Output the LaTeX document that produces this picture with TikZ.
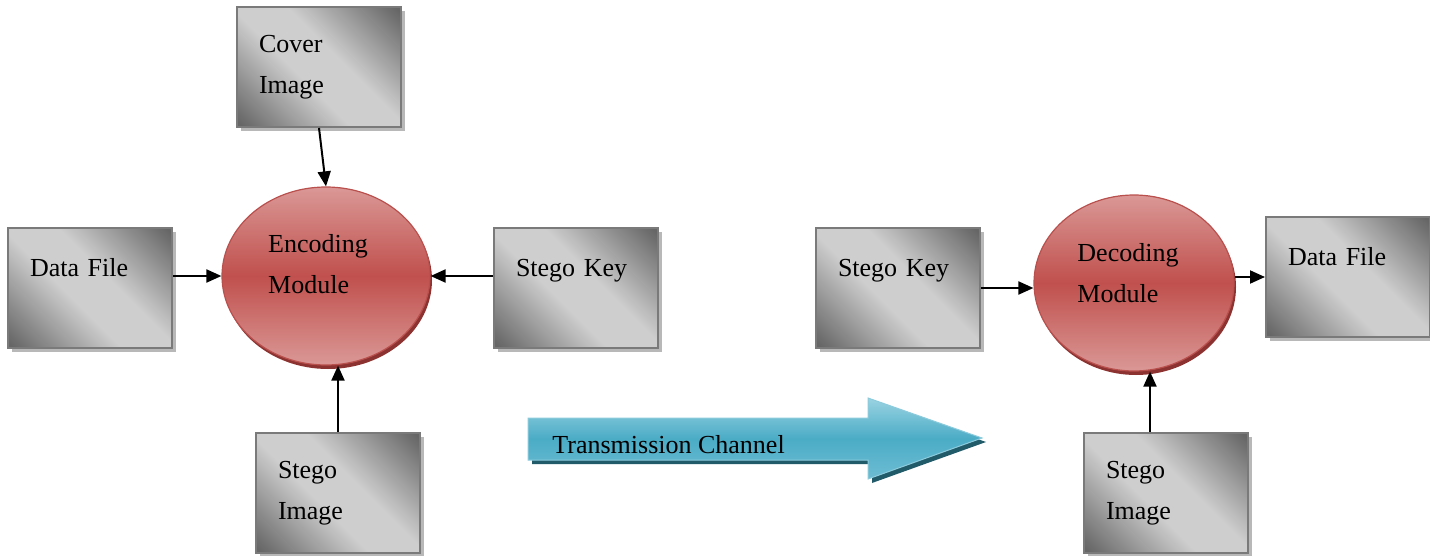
\documentclass[tikz,border=0pt]{standalone}
\usepackage{fontspec}
\setmainfont{Liberation Serif}
\usetikzlibrary{arrows.meta}
\usetikzlibrary{shapes.geometric}
\usetikzlibrary{shadows}
\usetikzlibrary{calc}
\definecolor{boxdark}{HTML}{666666}
\definecolor{boxlight}{HTML}{CECECE}
\definecolor{boxedge}{HTML}{7A7A7A}
\definecolor{boxshadow}{HTML}{B8B8B8}
\definecolor{modlight}{HTML}{DA9896}
\definecolor{moddark}{HTML}{C0504D}
\definecolor{modedge}{HTML}{B9504D}
\definecolor{modshadow}{HTML}{8C3230}
\definecolor{chanlight}{HTML}{9AD3E2}
\definecolor{chanmid}{HTML}{4BACC6}
\definecolor{chanlow}{HTML}{6DBDD3}
\definecolor{chanedge}{HTML}{8CCBDC}
\definecolor{chanshadow}{HTML}{215A69}
\pgfdeclarehorizontalshading{boxshade}{100bp}{color(0bp)=(boxdark);
    color(16bp)=(boxdark); color(43bp)=(boxlight); color(57bp)=(boxlight);
    color(84bp)=(boxdark); color(100bp)=(boxdark)}
\newcommand{\diagfont}{\fontsize{13}{20.5}\selectfont}
\tikzset{
    filebox/.style={rectangle, draw=boxedge, line width=1pt,
        shading=boxshade, shading angle=45,
        minimum height=60pt, text width=60pt, inner xsep=11pt,
        align=left, font=\diagfont,
        drop shadow={shadow xshift=2pt, shadow yshift=-2pt,
            fill=boxshadow, opacity=1}},
    module/.style={ellipse, draw=modedge, line width=0.6pt,
        top color=modlight, bottom color=modlight, middle color=moddark,
        inner sep=0pt,
        drop shadow={shadow xshift=1pt, shadow yshift=-2pt,
            fill=modshadow, opacity=1}},
    modtext/.style={align=left, font=\diagfont, inner sep=0pt},
    link/.style={-{Triangle[length=7.5pt,width=6.5pt]}, line width=1pt}
}
\begin{document}
\begin{tikzpicture}[x=0.5pt,y=-0.5pt]
	\useasboundingbox (0,0) rectangle (1430,556);

	\node[filebox] (cover) at (319,67) {Cover\\Image};
	\node[filebox] (data) at (90,288) {Data File\\\mbox{}};
	\node[filebox] (key) at (576,288) {Stego Key\\\mbox{}};
	\node[filebox] (stimg) at (338,493) {Stego\\Image};

	\node[module, minimum width=104pt, minimum height=89pt,
		label={[modtext, xshift=-4pt, yshift=6pt]center:Encoding\\Module}]
		(enc) at (326,276) {};

	\node[filebox] (key2) at (898,288) {Stego Key\\\mbox{}};
	\node[filebox] (data2) at (1348,277) {Data File\\\mbox{}};
	\node[filebox] (stimg2) at (1166,493) {Stego\\Image};

	\node[module, minimum width=100pt, minimum height=88pt,
		label={[modtext, xshift=-3pt, yshift=5pt]center:Decoding\\Module}]
		(dec) at (1134,283) {};

	\draw[link] (cover.south) -- (enc.north);
	\draw[link] (data.east |- enc.west) -- (enc.west);
	\draw[link] (key.west |- enc.east) -- (enc.east);
	\draw[link] (stimg.north) -- (stimg.north |- enc.south);

	\draw[link] (key2.east) -- (key2.east -| dec.west);
	\draw[link] (data2.west -| dec.east) -- (data2.west);
	\draw[link] ([xshift=-8pt]stimg2.north) -- ([xshift=-8pt]stimg2.north |- dec.south);

	\fill[chanshadow, xshift=2pt, yshift=-2pt]
		(528,418) -- (868,418) -- (868,398) -- (982,438)
		-- (868,479) -- (868,460) -- (528,460) -- cycle;
	\shade[top color=chanlight, bottom color=chanlow, middle color=chanmid,
		draw=chanedge, line width=0.5pt]
		(528,418) -- (868,418) -- (868,398) -- (982,438)
		-- (868,479) -- (868,460) -- (528,460) -- cycle;
	\node[font=\diagfont, inner sep=0pt, anchor=west] (chan) at (552,445)
		{Transmission Channel};
\end{tikzpicture}
\end{document}
